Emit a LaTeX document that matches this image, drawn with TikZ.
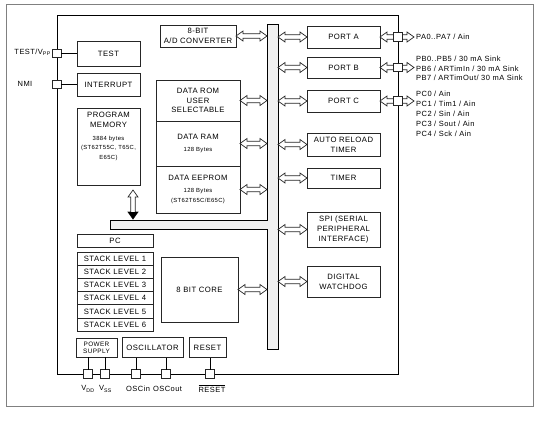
\documentclass[tikz,border=0pt]{standalone}
\usepackage{fontspec}
\setmainfont{Liberation Sans}[LetterSpace=6]
\usepackage{tikz}
\usetikzlibrary{positioning}
\usetikzlibrary{calc}

\newcommand\boxfont{\fontsize{7.7}{9.8}\selectfont}
\newcommand\smallfont{\fontsize{5.9}{8}\selectfont}
\newcommand\pinfont{\fontsize{7.5}{9}\selectfont}

% hollow double arrow between two points (drawn on the height of the first)
\newcommand\hollowarrow[2]{%
  \draw[arrowline] let \p1=(#1), \p2=(#2) in
    (\x1,\y1) -- (\x1+7pt,\y1+5pt) -- (\x1+7pt,\y1+2.2pt) -- (\x2-7pt,\y1+2.2pt)
    -- (\x2-7pt,\y1+5pt) -- (\x2,\y1) -- (\x2-7pt,\y1-5pt) -- (\x2-7pt,\y1-2.2pt)
    -- (\x1+7pt,\y1-2.2pt) -- (\x1+7pt,\y1-5pt) -- cycle;}

\begin{document}
\begin{tikzpicture}[x=1pt,y=-1pt,
    blk/.style={draw=black!85, line width=0.8pt, inner sep=0pt, outer sep=0pt,
                align=center, font=\boxfont},
    pin/.style={draw=black!85, fill=white, line width=0.8pt, minimum size=8.5pt,
                inner sep=0pt, outer sep=0pt},
    arrowline/.style={draw=black!85, fill=white, line width=0.7pt},
    lbl/.style={font=\pinfont, inner sep=0pt, anchor=west}]
\useasboundingbox (0,0) rectangle (541,421);

    % frames
    \draw[gray, line width=0.9pt] (6,4) rectangle (533,406);
    \node[draw, line width=0.9pt, minimum width=341pt, minimum height=359pt,
          inner sep=0, outer sep=0] (chip) at (227.5,194.5) {};

    % internal bus
    \coordinate (busL) at (267,24);
    \coordinate (busR) at (278,24);
    \draw[fill=gray!12, line width=0.8pt] (267,24) -- (278,24) -- (278,349) -- (267,349)
        -- (267,229) -- (110,229) -- (110,220) -- (267,220) -- cycle;

    % left column
    \node[blk, minimum width=63pt, minimum height=25pt] (test) at (108.5,53.5) {TEST};
    \node[blk, minimum width=63pt, minimum height=23pt] (intr) at (108.5,84.5) {INTERRUPT};
    \node[blk, minimum width=63pt, minimum height=77pt] (pmem) at (108.5,146.5) {};
    \node[font=\boxfont, align=center, inner sep=0, below=4pt of pmem.north] (pmemtxt)
        {PROGRAM\\MEMORY\\[3pt]\smallfont 3884 bytes\\\smallfont (ST62T55C, T65C,\\\smallfont E65C)};

    % memories
    \node[blk, minimum width=76pt, minimum height=22pt] (adc) at (198,36) {8-BIT\\A/D CONVERTER};
    \node[blk, minimum width=84pt, minimum height=41pt] (drom) at (198,100.5)
        {DATA ROM\\USER\\SELECTABLE};
    \node[blk, minimum width=84pt, minimum height=45pt, below=0pt of drom] (dram)
        {DATA RAM\\[3pt]\smallfont 128 Bytes};
    \node[blk, minimum width=84pt, minimum height=47pt, below=0pt of dram] (deep)
        {DATA EEPROM\\[2pt]\smallfont 128 Bytes\\\smallfont (ST62T65C/E65C)};

    % peripherals
    \node[blk, minimum width=73pt, minimum height=22pt] (porta) at (343.5,37) {PORT A};
    \node[blk, minimum width=73pt, minimum height=21pt] (portb) at (343.5,67.5) {PORT B};
    \node[blk, minimum width=73pt, minimum height=22pt] (portc) at (343.5,101) {PORT C};
    \node[blk, minimum width=73pt, minimum height=23pt] (art) at (343.5,144.5) {AUTO RELOAD\\TIMER};
    \node[blk, minimum width=73pt, minimum height=20pt] (tim) at (343.5,178) {TIMER};
    \node[blk, minimum width=73pt, minimum height=35pt] (spi) at (343.5,229.5)
        {SPI (SERIAL\\PERIPHERAL\\INTERFACE)};
    \node[blk, minimum width=73pt, minimum height=31pt] (wdg) at (343.5,281.5) {DIGITAL\\WATCHDOG};

    % core and stack
    \node[blk, minimum width=76pt, minimum height=13pt] (pc) at (115,240.5) {PC};
    \node[blk, minimum width=76pt, minimum height=13.2pt, below=5pt of pc] (st1) {STACK LEVEL 1};
    \node[blk, minimum width=76pt, minimum height=13.2pt, below=0pt of st1] (st2) {STACK LEVEL 2};
    \node[blk, minimum width=76pt, minimum height=13.2pt, below=0pt of st2] (st3) {STACK LEVEL 3};
    \node[blk, minimum width=76pt, minimum height=13.2pt, below=0pt of st3] (st4) {STACK LEVEL 4};
    \node[blk, minimum width=76pt, minimum height=13.2pt, below=0pt of st4] (st5) {STACK LEVEL 5};
    \node[blk, minimum width=76pt, minimum height=13.2pt, below=0pt of st5] (st6) {STACK LEVEL 6};
    \node[blk, minimum width=77pt, minimum height=65pt] (core) at (199.5,289.5) {8 BIT CORE};

    % bottom blocks
    \node[blk, minimum width=41pt, minimum height=19pt, font=\fontsize{6.4}{6.6}\selectfont]
        (psu) at (96.5,347.5) {POWER\\SUPPLY};
    \node[blk, minimum width=61pt, minimum height=20pt] (osc) at (152.5,347.5) {OSCILLATOR};
    \node[blk, minimum width=37pt, minimum height=20pt] (rst) at (207.5,347.5) {RESET};

    % arrows to the bus
    \hollowarrow{adc.east}{busL|-adc.east}
    \hollowarrow{drom.east}{busL|-drom.east}
    \hollowarrow{dram.east}{busL|-dram.east}
    \hollowarrow{deep.east}{busL|-deep.east}
    \hollowarrow{core.east}{busL|-core.east}
    \hollowarrow{busR|-porta.west}{porta.west}
    \hollowarrow{busR|-portb.west}{portb.west}
    \hollowarrow{busR|-portc.west}{portc.west}
    \hollowarrow{busR|-art.west}{art.west}
    \hollowarrow{busR|-tim.west}{tim.west}
    \hollowarrow{busR|-spi.west}{spi.west}
    \hollowarrow{busR|-wdg.west}{wdg.west}

    % program memory to bus
    \coordinate (memtop) at (133,190);
    \coordinate (membot) at (133,219);
    \draw[arrowline] let \p1=(memtop), \p2=(membot) in
        (\x1,\y1) -- (\x1+5pt,\y1-7pt) -- (\x1+2.2pt,\y1-7pt) -- (\x1+2.2pt,\y2+7pt)
        -- (\x1+5pt,\y2+7pt) -- (\x1,\y2) -- (\x1-5pt,\y2+7pt) -- (\x1-2.2pt,\y2+7pt)
        -- (\x1-2.2pt,\y1-7pt) -- (\x1-5pt,\y1-7pt) -- cycle;
    \fill let \p2=(membot) in (\x2+5pt,\y2+7pt) -- (\x2,\y2) -- (\x2-5pt,\y2+7pt) -- cycle;

    % port pins
    \coordinate (paout) at (414,37);
    \coordinate (pbout) at (414,67.5);
    \coordinate (pcout) at (414,101);
    \hollowarrow{porta.east}{paout}
    \hollowarrow{portb.east}{pbout}
    \hollowarrow{portc.east}{pcout}
    \node[pin] (ppa) at (chip.east|-porta) {};
    \node[pin] (ppb) at (chip.east|-portb) {};
    \node[pin] (ppc) at (chip.east|-portc) {};

    \node[lbl] (pa) at (416,37) {PA0..PA7 / Ain};
    \node[lbl] (pb1) at (416,59) {PB0..PB5 / 30 mA Sink};
    \node[lbl] (pb2) at (416,68.5) {PB6 / ARTimIn / 30 mA Sink};
    \node[lbl] (pb3) at (416,78) {PB7 / ARTimOut/ 30 mA Sink};
    \node[lbl] (pc0) at (416,94) {PC0 / Ain};
    \node[lbl] (pc1) at (416,103.5) {PC1 / Tim1 / Ain};
    \node[lbl] (pc2) at (416,113.5) {PC2 / Sin / Ain};
    \node[lbl] (pc3) at (416,124) {PC3 / Sout / Ain};
    \node[lbl] (pc4) at (416,133.5) {PC4 / Sck / Ain};

    % left pins
    \node[pin] (ptest) at (chip.west|-test) {};
    \node[pin] (pnmi) at (chip.west|-intr) {};
    \draw[line width=0.8pt] (ptest) -- (test);
    \draw[line width=0.8pt] (pnmi) -- (intr);
    \node[font=\pinfont, inner sep=0, anchor=east] (testlbl) at (51,52.5) {TEST/V\textsubscript{PP}};
    \node[font=\pinfont, inner sep=0] (nmilbl) at (25,84) {NMI};

    % bottom pins
    \node[pin] (pvdd) at (88,374) {};
    \node[pin] (pvss) at (105,374) {};
    \node[pin] (posci) at (136,374) {};
    \node[pin] (posco) at (166,374) {};
    \node[pin] (prst) at (210,374) {};
    \draw[line width=0.8pt] (psu.south-|pvdd) -- (pvdd);
    \draw[line width=0.8pt] (psu.south-|pvss) -- (pvss);
    \draw[line width=0.8pt] (osc.south-|posci) -- (posci);
    \draw[line width=0.8pt] (osc.south-|posco) -- (posco);
    \draw[line width=0.8pt] (rst.south-|prst) -- (prst);

    \node[font=\pinfont, inner sep=0] (vddlbl) at (88,389) {V\textsubscript{DD}};
    \node[font=\pinfont, inner sep=0] (vsslbl) at (105.5,389) {V\textsubscript{SS}};
    \node[font=\pinfont, inner sep=0] (oscilbl) at (138,389) {OSCin};
    \node[font=\pinfont, inner sep=0] (oscolbl) at (167.5,389) {OSCout};
    \node[font=\pinfont, inner sep=0] (rstlbl) at (212,388.5) {$\overline{\mbox{RESET}}$};
\end{tikzpicture}
\end{document}
